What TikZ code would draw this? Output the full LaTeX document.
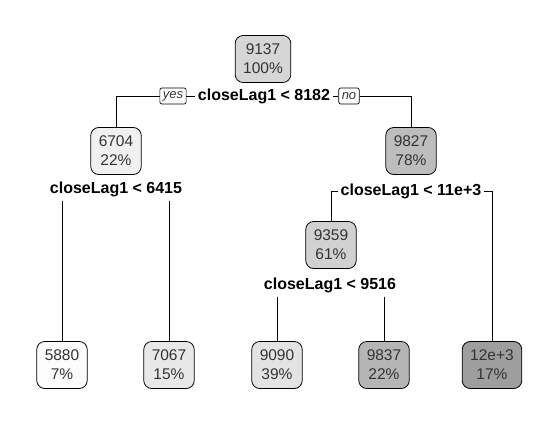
\documentclass[tikz,border=0pt]{standalone}
\usepackage{fontspec}
\setmainfont{Liberation Sans}
\begin{document}
\begin{tikzpicture}[x=1pt,y=-1pt]
	\tikzset{box/.style = {draw, line width=0.8pt, rounded corners=8pt, minimum width=50pt, minimum height=47pt, align=center, inner xsep=8pt, inner ysep=2pt, text=black!80, font=\fontsize{15.5}{19}\selectfont}}
	\tikzset{split/.style = {fill=white, inner xsep=3pt, inner ysep=4pt, font=\fontsize{16}{19}\selectfont\bfseries}}
	\tikzset{tag/.style = {draw, line width=0.7pt, rounded corners=2pt, fill=white, inner xsep=3pt, inner ysep=0pt, minimum height=16pt, font=\fontsize{13}{14}\selectfont\itshape, text=black!80}}
	\tikzset{edge/.style = {line width=0.8pt}}
	\useasboundingbox (0,0) rectangle (558,421);
	% Inner nodes
	\node[box, fill=black!16] (n9137) at (263,59) {9137\\100\%};
	\node[box, fill=black!6] (n6704) at (116,151) {6704\\22\%};
	\node[box, fill=black!26] (n9827) at (411,151) {9827\\78\%};
	\node[box, fill=black!18] (n9359) at (331,245) {9359\\61\%};
	% Leaves
	\node[box, fill=black!1] (l5880) at (62,365) {5880\\7\%};
	\node[box, fill=black!9] (l7067) at (169,365) {7067\\15\%};
	\node[box, fill=black!11] (l9090) at (277,365) {9090\\39\%};
	\node[box, fill=black!29] (l9837) at (384,365) {9837\\22\%};
	\node[box, fill=black!38] (l12e3) at (492,365) {12e+3\\17\%};
	% Split labels
	\node[split] (s8182) at (264,96) {closeLag1 < 8182};
	\node[tag] (yes) at (173,96) {yes};
	\node[tag] (no) at (349,96) {no};
	\node[split] (s6415) at (116,189) {closeLag1 < 6415};
	\node[split] (s11e3) at (411,191) {closeLag1 < 11e+3};
	\node[split] (s9516) at (330,285) {closeLag1 < 9516};
	% Branches
	\draw[edge] (s8182) -- (yes);
	\draw[edge] (yes) -| (n6704);
	\draw[edge] (s8182) -- (no);
	\draw[edge] (no) -| (n9827);
	\draw[edge] (s6415.south -| l5880) -- (l5880);
	\draw[edge] (s6415.south -| l7067) -- (l7067);
	\draw[edge] (s11e3) -| (n9359);
	\draw[edge] (s11e3) -| (l12e3);
	\draw[edge] (s9516.south -| l9090) -- (l9090);
	\draw[edge] (s9516.south -| l9837) -- (l9837);
\end{tikzpicture}
\end{document}
